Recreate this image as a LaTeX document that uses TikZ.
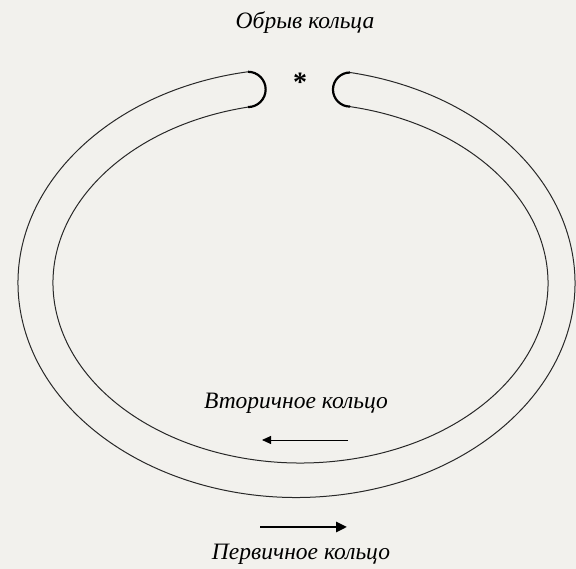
\documentclass[tikz,border=0pt]{standalone}
\usepackage{fontspec}
\setmainfont{Liberation Serif}
\usetikzlibrary{arrows.meta,calc}
\definecolor{paper}{RGB}{242,241,237}
\definecolor{ink}{RGB}{40,40,40}

\begin{document}
\begin{tikzpicture}[
    x=1pt, y=1pt,
    ringLine/.style={draw=ink, line width=1pt},
    gapCap/.style={draw=black, line width=2.2pt},
    label/.style={font=\itshape\fontsize{23.5}{26}\selectfont, inner sep=0pt, text=black},
    secArrow/.style={-{Triangle[length=9pt, width=8pt]}, line width=0.9pt, draw=black},
    primArrow/.style={-{Triangle[length=11pt, width=10pt]}, line width=2.6pt, draw=black}
]

% background and page size
\fill[paper] (0,0) rectangle (576,569);
\useasboundingbox (0,0) rectangle (576,569);

% centres of the two rings
\coordinate (outerC) at (296.5,286);
\coordinate (innerC) at (300.5,286);

% ends of the ring at the break
\coordinate (outerL) at ($(outerC)+(100.03:278.5 and 214.5)$);
\coordinate (innerL) at ($(innerC)+(102.25:247.5 and 180)$);
\coordinate (outerR) at ($(outerC)+(78.92:278.5 and 214.5)$);
\coordinate (innerR) at ($(innerC)+(78.46:247.5 and 180)$);

% Outer and inner strands
\draw[ringLine] (outerL) arc[start angle=100.03, end angle=438.92, x radius=278.5, y radius=214.5];
\draw[ringLine] (innerL) arc[start angle=102.25, end angle=438.46, x radius=247.5, y radius=180];

% Caps at the break
\draw[gapCap] (outerL) arc[start angle=90, end angle=-90, radius=17.65];
\draw[gapCap] (outerR) arc[start angle=90, end angle=270, radius=17.05];

% Break marker and labels
\node[font=\bfseries\fontsize{28}{28}\selectfont, inner sep=0pt] (star) at (300,487) {*};
\node[label] (gapLbl) at (305,546) {Обрыв кольца};
\node[label] (secLbl) at (296,166) {Вторичное кольцо};
\node[label] (primLbl) at (301,15) {Первичное кольцо};

% Direction arrows
\coordinate (secFrom) at (348,129);
\coordinate (secTo) at (262,129);
\draw[secArrow] (secFrom) -- (secTo);

\coordinate (primFrom) at (260,42);
\coordinate (primTo) at (347,42);
\draw[primArrow] (primFrom) -- (primTo);

\end{tikzpicture}
\end{document}
